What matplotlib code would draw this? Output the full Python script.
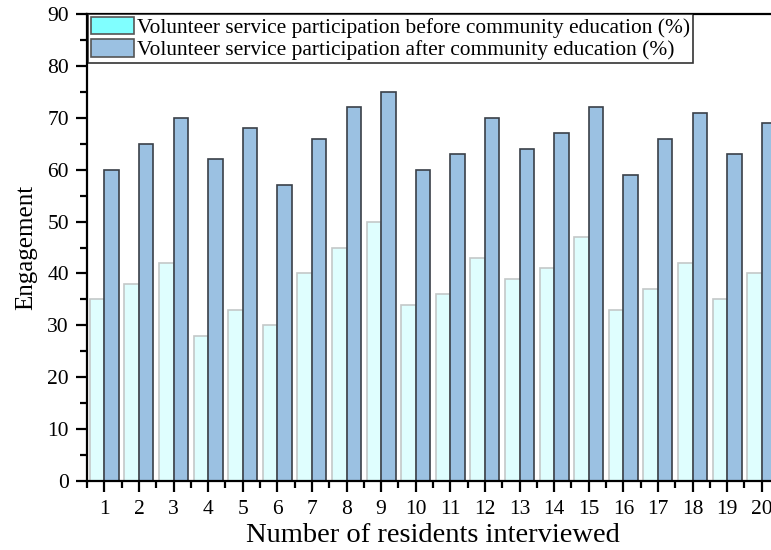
import numpy as np
import matplotlib.pyplot as plt
from matplotlib.patches import Patch
from matplotlib.ticker import MultipleLocator

plt.rcParams['font.family'] = ['Liberation Serif', 'DejaVu Serif']

residents = np.arange(1, 21)
before = [35, 38, 42, 28, 33, 30, 40, 45, 50, 34, 36, 43, 39, 41, 47, 33, 37, 42, 35, 40]
after = [60, 65, 70, 62, 68, 57, 66, 72, 75, 60, 63, 70, 64, 67, 72, 59, 66, 71, 63, 69]

labels = ['Volunteer service participation before community education (%)',
          'Volunteer service participation after community education (%)']

fig = plt.figure(figsize=(7.71, 5.5), dpi=100)
# axes runs a little past the right edge, so the last bars are clipped
ax = fig.add_axes([87 / 771, 69 / 550, 692 / 771, 467 / 550])

w = 0.42
ax.bar(residents - w / 2, before, width=w, color='#DFFEFE', edgecolor='#C4C8C8', linewidth=1.2)
ax.bar(residents + w / 2, after, width=w, color='#9BC1E2', edgecolor='#3A4048', linewidth=1.2)

ax.set_xlim(0.5, 20.5)
ax.set_ylim(0, 90)
ax.set_xticks(residents)
ax.xaxis.set_minor_locator(MultipleLocator(0.5))
ax.yaxis.set_major_locator(MultipleLocator(10))
ax.yaxis.set_minor_locator(MultipleLocator(5))
ax.tick_params(which='major', direction='out', length=8, width=1.6, labelsize=15.5, colors='black')
ax.tick_params(which='minor', direction='out', length=5, width=1.6)
ax.tick_params(axis='x', which='major', pad=6)
ax.tick_params(axis='y', which='major', pad=5)
for s in ax.spines.values():
    s.set_linewidth(1.6)

ax.set_xlabel('Number of residents interviewed', fontsize=20.5)
ax.xaxis.label.set_va('baseline')
ax.xaxis.set_label_coords(0.5, -61 / 467)
ax.set_ylabel('Engagement', fontsize=18, labelpad=7)

handles = [Patch(facecolor='#80FFFF', edgecolor='#555555', linewidth=1.2),
           Patch(facecolor='#9BC1E2', edgecolor='#555555', linewidth=1.2)]
leg = ax.legend(handles, labels, loc='upper left', bbox_to_anchor=(0.002, 1.0),
                fontsize=15.4, frameon=True, fancybox=False, handlelength=2.0,
                handleheight=0.9, handletextpad=0.15, borderpad=0.12,
                labelspacing=0.05, borderaxespad=0)
leg.get_frame().set_edgecolor('black')
leg.get_frame().set_linewidth(1.2)

fig.savefig('out.png', dpi=100)
